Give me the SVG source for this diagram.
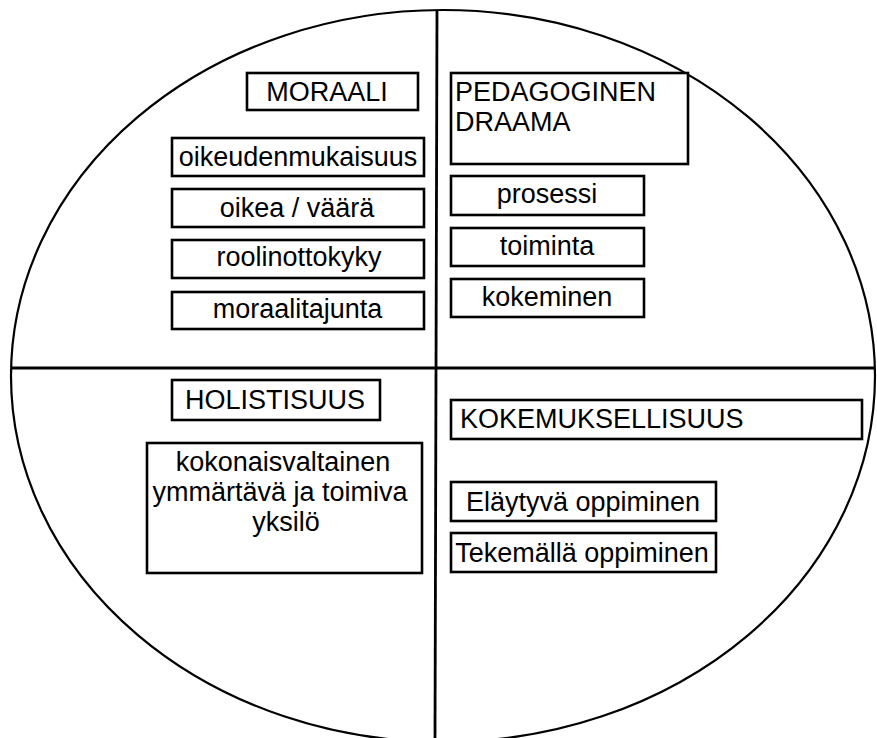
<svg xmlns="http://www.w3.org/2000/svg" width="877" height="738" viewBox="0 0 877 738">
<style>
.box{fill:#fff;stroke:#000;stroke-width:2.6}
.t{font-family:"Liberation Sans",Arial,sans-serif;font-size:27px;fill:#000}
.c{text-anchor:middle}
.ln{stroke:#000;stroke-width:2.8;fill:none}
.el{stroke:#000;stroke-width:2.2;fill:#fff}
</style>
<rect width="877" height="738" fill="#fff"/>
<ellipse class="el" cx="443" cy="376" rx="432" ry="366"/>
<g id="connectors">
<line class="ln" x1="437" y1="10" x2="435" y2="738"/>
<line class="ln" x1="11" y1="368" x2="875" y2="368"/>
</g>
<g id="moraali"><rect class="box" x="247" y="73" width="171" height="37"/><text class="t c" x="327" y="101">MORAALI</text></g>
<g id="oikeudenmukaisuus"><rect class="box" x="172" y="138" width="252" height="38"/><text class="t c" x="298" y="166">oikeudenmukaisuus</text></g>
<g id="oikea"><rect class="box" x="172" y="189" width="252" height="38"/><text class="t c" x="297" y="217">oikea / väärä</text></g>
<g id="roolinottokyky"><rect class="box" x="172" y="240" width="252" height="38"/><text class="t c" x="299" y="266">roolinottokyky</text></g>
<g id="moraalitajunta"><rect class="box" x="172" y="292" width="252" height="37"/><text class="t c" x="297.5" y="318">moraalitajunta</text></g>
<g id="pedagoginen"><rect class="box" x="451" y="73" width="237" height="91"/><text class="t" x="455" y="101">PEDAGOGINEN</text><text class="t" x="455" y="131">DRAAMA</text></g>
<g id="prosessi"><rect class="box" x="451" y="176" width="193" height="39"/><text class="t c" x="547" y="203">prosessi</text></g>
<g id="toiminta"><rect class="box" x="451" y="228" width="193" height="38"/><text class="t c" x="547" y="255">toiminta</text></g>
<g id="kokeminen"><rect class="box" x="451" y="279" width="193" height="38"/><text class="t c" x="547" y="306">kokeminen</text></g>
<g id="holistisuus"><rect class="box" x="172" y="380" width="208" height="40"/><text class="t c" x="275" y="409">HOLISTISUUS</text></g>
<g id="kokonaisvaltainen"><rect class="box" x="147" y="443" width="275" height="130"/><text class="t c" x="283" y="471">kokonaisvaltainen</text><text class="t c" x="280" y="501">ymmärtävä ja toimiva</text><text class="t c" x="286" y="531">yksilö</text></g>
<g id="kokemuksellisuus"><rect class="box" x="451" y="400" width="411" height="39"/><text class="t" x="460" y="428">KOKEMUKSELLISUUS</text></g>
<g id="elaytyva"><rect class="box" x="451" y="482" width="265" height="39"/><text class="t c" x="583" y="511">Eläytyvä oppiminen</text></g>
<g id="tekemalla"><rect class="box" x="451" y="533" width="265" height="39"/><text class="t c" x="582" y="562">Tekemällä oppiminen</text></g>
</svg>
